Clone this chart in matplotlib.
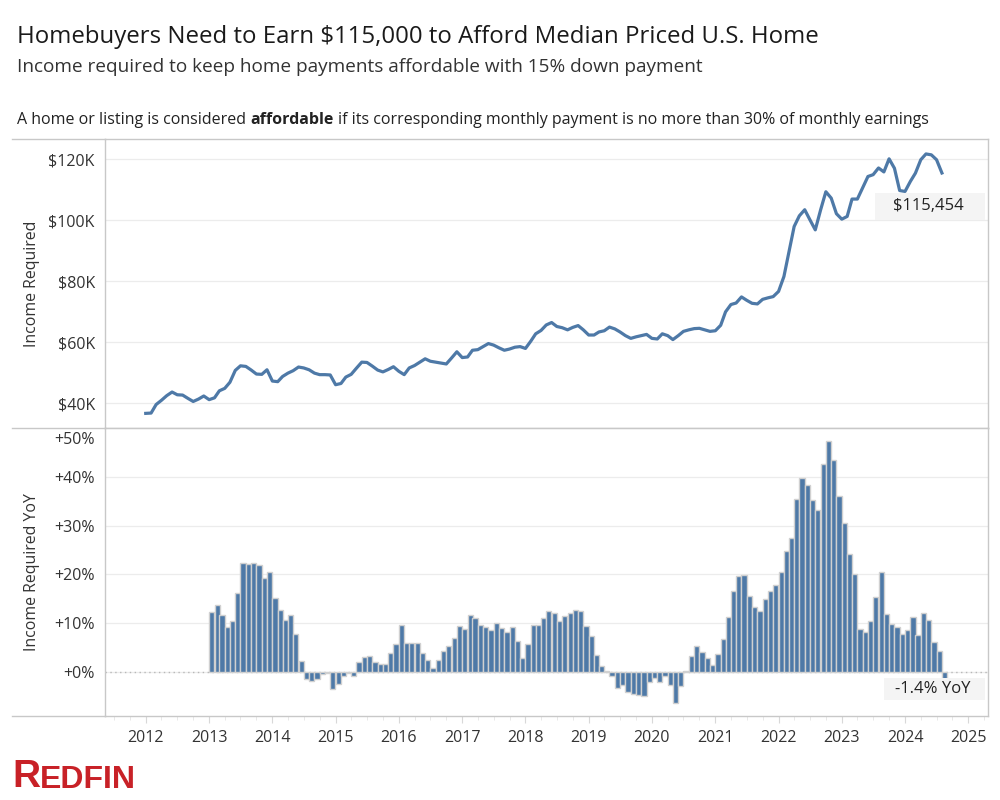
import pandas as pd
import numpy as np
import matplotlib
matplotlib.use('Agg')
import matplotlib.pyplot as plt
import matplotlib.dates as mdates
from matplotlib.lines import Line2D
from matplotlib.patches import Rectangle

plt.rcParams['font.family'] = ['Open Sans', 'DejaVu Sans']

# income required to afford the median home, $K, monthly from Jan 2012 to Aug 2024
incomeRequired = [
    36.6, 36.7, 39.5, 40.9, 42.4, 43.6, 42.7, 42.6, 41.5, 40.5, 41.3, 42.3,   # 2012
    41.1, 41.7, 44.0, 44.8, 46.8, 50.7, 52.2, 52.0, 50.8, 49.5, 49.4, 50.9,   # 2013
    47.2, 47.0, 48.7, 49.8, 50.6, 51.8, 51.5, 50.9, 49.8, 49.3, 49.3, 49.2,   # 2014
    46.0, 46.4, 48.5, 49.4, 51.4, 53.4, 53.3, 52.1, 50.8, 50.2, 51.0, 51.9,   # 2015
    50.4, 49.3, 51.5, 52.3, 53.4, 54.5, 53.7, 53.4, 53.1, 52.8, 54.8, 56.8,   # 2016
    54.9, 55.1, 57.3, 57.5, 58.5, 59.5, 59.0, 58.1, 57.3, 57.7, 58.3, 58.5,   # 2017
    57.9, 60.3, 62.7, 63.8, 65.6, 66.4, 65.1, 64.7, 64.0, 64.8, 65.4, 64.0,   # 2018
    62.3, 62.3, 63.3, 63.7, 64.9, 64.3, 63.3, 62.1, 61.2, 61.7, 62.1, 62.5,   # 2019
    61.2, 61.0, 62.7, 62.1, 60.8, 62.1, 63.5, 64.0, 64.4, 64.5, 64.0, 63.5,   # 2020
    63.7, 65.5, 69.9, 72.3, 72.8, 74.8, 73.7, 72.7, 72.5, 74.0, 74.5, 74.9,   # 2021
    76.6, 81.5, 89.2, 97.9, 101.4, 103.4, 100.1, 96.8, 103.4, 109.3, 107.2, 102.1,  # 2022
    100.3, 101.2, 106.9, 106.9, 110.5, 114.3, 114.9, 117.1, 115.8, 120.1, 117.0, 109.7,  # 2023
    109.4, 112.7, 115.4, 119.8, 121.7, 121.4, 119.8, 115.454,                 # 2024
]

# year over year change in %, monthly from Jan 2013 to Aug 2024
incomeYoY = [
    12.3, 13.7, 11.6, 9.2, 10.4, 16.2, 22.3, 22.1, 22.3, 21.9, 19.2, 20.5,    # 2013
    15.1, 12.7, 10.6, 11.6, 7.9, 2.2, -1.4, -1.8, -1.4, -0.4, -0.1, -3.5,     # 2014
    -2.4, -0.8, -0.1, -0.8, 2.0, 3.1, 3.3, 2.1, 1.6, 1.6, 3.9, 5.7,           # 2015
    9.6, 6.0, 6.0, 6.0, 3.9, 2.4, 0.8, 2.4, 4.3, 5.3, 6.9, 9.4,               # 2016
    8.8, 11.6, 11.0, 9.6, 9.2, 8.6, 10.0, 9.0, 8.2, 9.2, 6.3, 2.8,            # 2017
    5.7, 9.6, 9.6, 11.0, 12.5, 12.1, 10.4, 11.4, 12.1, 12.7, 12.5, 9.4,       # 2018
    7.3, 3.4, 1.2, 0.2, -0.9, -3.2, -2.6, -4.1, -4.5, -4.7, -4.9, -2.1,       # 2019
    -1.2, -2.1, -0.9, -2.6, -6.4, -2.8, 0.3, 3.2, 5.3, 4.2, 2.9, 1.4,         # 2020
    3.6, 6.7, 11.2, 16.6, 19.7, 19.9, 15.5, 13.3, 12.5, 14.9, 16.6, 17.9,     # 2021
    20.5, 24.8, 27.5, 35.5, 39.7, 38.4, 35.3, 33.1, 42.7, 47.4, 43.5, 36.1,   # 2022
    30.5, 24.2, 20.1, 8.8, 8.2, 10.4, 15.3, 20.5, 11.9, 9.9, 9.2, 7.8,        # 2023
    8.6, 11.2, 7.5, 12.1, 10.7, 6.2, 4.4, -1.4,                               # 2024
]

incomeTicks = [40, 60, 80, 100, 120]
yoyTicks = [0, 10, 20, 30, 40, 50]

incomeMonths = pd.date_range('2012-01-01', periods=len(incomeRequired), freq='MS')
yoyMonths = pd.date_range('2013-01-01', periods=len(incomeYoY), freq='MS')

blue = '#4e79a7'
frameColor = '#c8c8c8'
gridColor = '#ececec'
textColor = '#333333'

fig = plt.figure(figsize=(10, 8), dpi=100)
axTop = fig.add_axes([0.1045, 0.465, 0.8835, 0.36125])
axBot = fig.add_axes([0.1045, 0.105, 0.8835, 0.36], sharex=axTop)

# top panel: income required line
axTop.plot(incomeMonths, incomeRequired, color=blue, linewidth=2.3, solid_joinstyle='round', zorder=3)
axTop.set_ylim(31.8, 126.6)
axTop.set_yticks(incomeTicks)
axTop.set_yticklabels([f"${v}K" for v in incomeTicks])

# bottom panel: YoY bars
axBot.axhline(0, color='#b8b8b8', linestyle=(0, (1, 2.5)), linewidth=1, zorder=1)
axBot.bar(yoyMonths, incomeYoY, width=30, align='edge', color=blue,
          edgecolor='#d0d0d0', linewidth=1.0, zorder=2)
axBot.set_ylim(-9, 50)
axBot.set_yticks(yoyTicks)
# the top label sits a little below its gridline in the original, so draw it separately
axBot.set_yticklabels([f"+{v}%" for v in yoyTicks[:-1]] + [''])
axBot.annotate(f"+{yoyTicks[-1]}%", xy=(0, yoyTicks[-1]), xycoords=('axes fraction', 'data'),
               xytext=(-7, -8.5), textcoords='offset points', ha='right', va='center',
               fontsize=11.5, color=textColor, annotation_clip=False)

axBot.set_xlim(pd.Timestamp('2011-05-08'), pd.Timestamp('2025-04-24'))
axBot.xaxis.set_major_locator(mdates.YearLocator())
axBot.xaxis.set_major_formatter(mdates.DateFormatter('%Y'))
axBot.xaxis.set_minor_locator(mdates.MonthLocator(bymonth=[4, 7, 10]))

for ax in (axTop, axBot):
    for side in ax.spines:
        ax.spines[side].set_color(frameColor)
        ax.spines[side].set_linewidth(1)
    ax.grid(axis='y', color=gridColor, linewidth=0.9, zorder=0)
    ax.set_axisbelow(True)
    ax.tick_params(axis='y', length=0, pad=7, labelsize=11.5, labelcolor=textColor)

axTop.tick_params(axis='x', which='both', length=0, labelbottom=False)
axBot.tick_params(axis='x', which='major', length=5, color='#d8d8d8', pad=5,
                  labelsize=11.5, labelcolor=textColor)
axBot.tick_params(axis='x', which='minor', length=3, color='#e4e4e4')

# separator lines that run into the label area
for yy in (0.82625, 0.465, 0.105):
    fig.add_artist(Line2D([0.012, 0.1045], [yy, yy], transform=fig.transFigure,
                          color=frameColor, linewidth=1))

# latest value callouts
axTop.add_patch(Rectangle((0.872, 0.72), 0.1246, 0.093, transform=axTop.transAxes,
                          facecolor='#f4f4f4', edgecolor='none', zorder=4))
axTop.text(0.933, 0.768, f"${incomeRequired[-1] * 1000:,.0f}", transform=axTop.transAxes,
           ha='center', va='center', fontsize=12, color='#222222', zorder=5)
axBot.add_patch(Rectangle((0.882, 0.056), 0.1146, 0.076, transform=axBot.transAxes,
                          facecolor='#f4f4f4', edgecolor='none', zorder=4))
axBot.text(0.937, 0.094, f"{incomeYoY[-1]:.1f}% YoY", transform=axBot.transAxes,
           ha='center', va='center', fontsize=12, color='#222222', zorder=5)

# axis titles
fig.text(0.032, 0.6456, 'Income Required', rotation=90, ha='center', va='center',
         fontsize=11.4, color=textColor)
fig.text(0.032, 0.285, 'Income Required YoY', rotation=90, ha='center', va='center',
         fontsize=11.4, color=textColor)

# headings
fig.text(0.017, 0.954, 'Homebuyers Need to Earn $115,000 to Afford Median Priced U.S. Home',
         fontsize=17.3, color='#1a1a1a', va='center')
fig.text(0.017, 0.916, 'Income required to keep home payments affordable with 15% down payment',
         fontsize=13.7, color=textColor, va='center')
note1 = fig.text(0.017, 0.845, 'A home or listing is considered', fontsize=11.5, color='#222222')
note2 = axTop.annotate('affordable', xy=(1, 0), xycoords=note1, xytext=(3.2, 0),
                       textcoords='offset points', fontsize=11.5, fontweight='bold',
                       color='#222222', va='bottom', annotation_clip=False)
axTop.annotate('if its corresponding monthly payment is no more than 30% of monthly earnings',
               xy=(1, 0), xycoords=note2, xytext=(3.2, 0), textcoords='offset points',
               fontsize=11.5, color='#222222', va='bottom', annotation_clip=False)

# logo
logoFont = ['Liberation Sans Narrow', 'Liberation Sans']
logoR = fig.text(0.012, 0.016, 'R', fontsize=28, fontweight='bold', color='#c82127',
                 family=logoFont)
axBot.annotate('EDFIN', xy=(1, 0), xycoords=logoR, fontsize=23, fontweight='bold',
               color='#c82127', va='bottom', family=logoFont, annotation_clip=False)

fig.savefig('out.png', dpi=100)
